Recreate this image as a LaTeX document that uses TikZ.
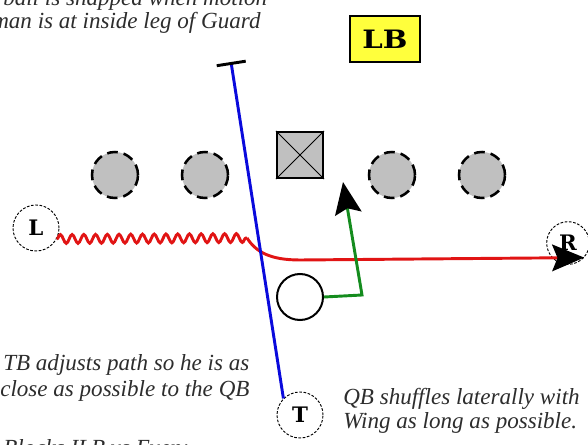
\documentclass[tikz,border=0pt]{standalone}
\usepackage{fontspec}
\setmainfont{Liberation Serif}
\newfontfamily\slabfont{DejaVu Serif}
\newfontfamily\lbfont{DejaVu Serif}
\usetikzlibrary{arrows.meta,decorations.pathmorphing}
\definecolor{fieldgray}{RGB}{192,192,192}
\definecolor{playred}{RGB}{225,20,20}
\definecolor{playblue}{RGB}{10,10,220}
\definecolor{playgreen}{RGB}{20,140,30}
\definecolor{lbyellow}{RGB}{255,255,60}
\definecolor{notetext}{RGB}{45,45,45}
\begin{document}
\begin{tikzpicture}[x=0.75pt,y=-0.75pt,
  lineman/.style={circle, draw=black, fill=fieldgray, line width=1.9pt,
    dash pattern=on 8pt off 4.5pt, minimum size=34.5pt, inner sep=0pt},
  centerbox/.style={rectangle, draw=black, fill=fieldgray, line width=1.6pt,
    minimum size=34.5pt, inner sep=0pt},
  back/.style={circle, draw=black, fill=white, line width=0.7pt,
    dash pattern=on 2pt off 1.2pt, minimum size=34.5pt, inner sep=0pt,
    font=\slabfont\bfseries\fontsize{16}{16}\selectfont},
  qbcircle/.style={circle, draw=black, fill=white, line width=1.5pt,
    minimum size=34.5pt, inner sep=0pt},
  note/.style={anchor=base west, inner sep=0pt, text=notetext,
    font=\itshape\fontsize{17.3}{20}\selectfont},
  redline/.style={draw=playred, line width=2.2pt},
  blueline/.style={draw=playblue, line width=2.2pt},
  greenline/.style={draw=playgreen, line width=2.2pt},
  bigtip/.style={-{Stealth[color=black, length=24pt, width=20pt, inset=4pt]}}
]
\useasboundingbox (0,0) rectangle (588,445);
\clip (0,0) rectangle (588,445);

% texts
\node[note] (t1) at (3,6) {ball is snapped when motion};
\node[note] (t2) at (-8,29) {man is at inside leg of Guard};
\node[note] (t3) at (3,370) {TB adjusts path so he is as};
\node[note] (t4) at (0,396) {close as possible to the QB};
\node[note] (t5) at (3,455) {Blocks ILB vs Even:};
\node[note] (t6) at (343,404) {QB shuffles laterally with};
\node[note] (t7) at (343,428) {Wing as long as possible.};

% LB box
\node[draw=black, fill=lbyellow, line width=1.4pt, minimum width=52pt,
  minimum height=35pt, inner sep=0pt,
  font=\lbfont\bfseries\fontsize{19}{19}\selectfont] (LB) at (385,39)
  {\scalebox{1.15}[1]{LB}};

% line
\node[lineman] (G1) at (115,175) {};
\node[lineman] (G2) at (205,175) {};
\node[centerbox] (C) at (300,155) {};
\draw[line width=0.6pt] (C.north west) -- (C.south east) (C.north east) -- (C.south west);
\node[lineman] (G3) at (392,175) {};
\node[lineman] (G4) at (482,175) {};

% backs
\node[back] (L) at (36,228) {L};
\node[back, minimum size=32pt] (R) at (568,243) {R};
\node[back] (T) at (300,415) {T};
\node[qbcircle] (QB) at (300,297) {};

% red motion path
\coordinate (snakeEnd) at (247,238);
\coordinate (redTip) at (R.-42);
\draw[redline, decorate, decoration={snake, amplitude=3.3pt, segment length=8.8pt}]
  (L.-28) -- (snakeEnd);
\draw[redline, bigtip]
  (snakeEnd) .. controls (256,252) and (270,260) .. (300,260) -- (redTip);

% QB path
\coordinate (qbCorner) at (362,295);
\coordinate (qbTip) at (343,182);
\draw[greenline, bigtip] (QB.east) -- (qbCorner) -- (qbTip);

% TB path
\coordinate (tbTop) at (231,62);
\draw[blueline, {Bar[color=black, width=22pt, line width=2.2pt]}-] (tbTop) -- (T.135);
\end{tikzpicture}
\end{document}
